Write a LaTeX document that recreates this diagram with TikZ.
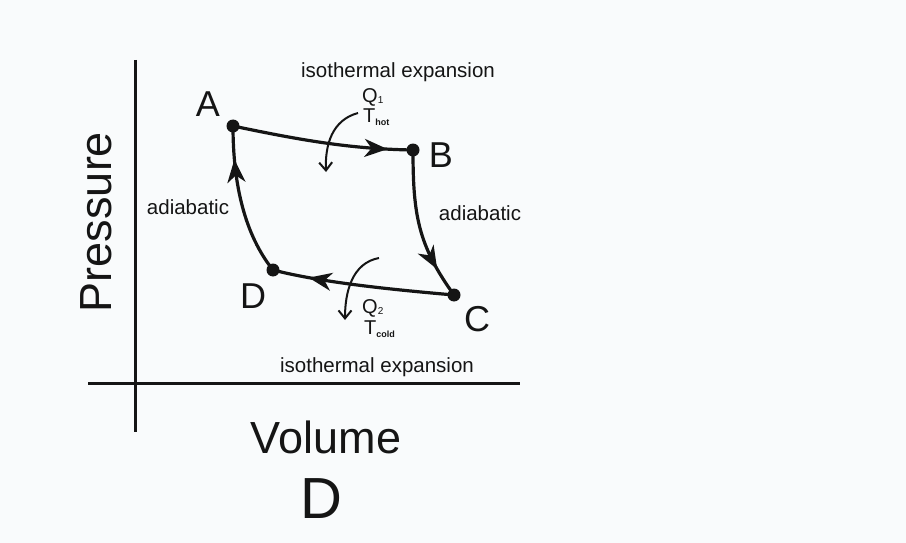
\documentclass[tikz,border=0pt]{standalone}
\usepackage{fontspec}
\setmainfont{Liberation Sans}
\usetikzlibrary{arrows.meta,decorations.markings}
\definecolor{bgc}{HTML}{F9FBFC}
\definecolor{ink}{HTML}{151515}
\tikzset{
  path/.style={line width=3.2pt, draw=ink},
  midarrow/.style={postaction={decorate},decoration={markings,
     mark=at position #1 with {\arrow{Stealth[length=23pt,width=18pt,inset=7pt]}}}},
  pt/.style={circle, fill=ink, inner sep=0pt, minimum size=13pt},
  small/.style={font=\fontsize{20.5}{22}\selectfont, text=ink, inner sep=0pt},
  qt/.style={font=\fontsize{20}{22}\selectfont, text=ink, inner sep=0pt},
  corner/.style={font=\fontsize{36}{38}\selectfont, text=ink, inner sep=0pt},
  big/.style={font=\fontsize{45}{47}\selectfont, text=ink, inner sep=0pt},
  heat/.style={line width=2pt, draw=ink, -{Straight Barb[length=8pt,width=13pt]}},
  axis/.style={line width=3pt, draw=ink},
}
\begin{document}
\begin{tikzpicture}[x=1pt,y=-1pt]
\fill[bgc] (0,0) rectangle (906,543);
\useasboundingbox (0,0) rectangle (906,543);
% axes
\coordinate (ytop) at (135,60);
\coordinate (ybot) at (135,432);
\coordinate (xl) at (88,383);
\coordinate (xr) at (520,383);
\draw[axis] (ytop) -- (ybot);
\draw[axis] (xl) -- (xr);
% points
\node[pt] (A) at (233,126) {};
\node[pt] (B) at (413,150) {};
\node[pt] (C) at (454,295) {};
\node[pt] (D) at (273,270) {};
% cycle
\draw[path, midarrow=0.86] (A.center) .. controls (300,140) and (350,149) .. (B.center);
\draw[path, midarrow=0.8] (B.center) .. controls (413,215) and (418,245) .. (C.center);
\draw[path, midarrow=0.8] (C.center) .. controls (385,289) and (320,282) .. (D.center);
\draw[path, midarrow=0.78] (D.center) .. controls (245,235) and (233,185) .. (A.center);
% heat arrows
\coordinate (h1s) at (358,113);
\coordinate (h1e) at (326,172);
\draw[heat] (h1s) .. controls (332,120) and (325,145) .. (h1e);
\coordinate (h2s) at (379,258);
\coordinate (h2e) at (345,320);
\draw[heat] (h2s) .. controls (352,263) and (345,292) .. (h2e);
% labels
\node[corner] (lA) at (208,104) {A};
\node[corner] (lB) at (441,155) {B};
\node[corner] (lC) at (477,319) {C};
\node[corner] (lD) at (253,296) {D};
\node[small] (iso1) at (398,72) {isothermal expansion};
\node[small] (iso2) at (377,367) {isothermal expansion};
\node[small] (ad1) at (188,207) {adiabatic};
\node[small] (ad2) at (480,213) {adiabatic};
\node[qt, anchor=west] (q1) at (362,97) {Q\raisebox{-1pt}{\fontsize{10}{10}\selectfont 1}};
\node[qt, anchor=west] (t1) at (363,117) {T\raisebox{-3pt}{\fontsize{9}{9}\selectfont\bfseries hot}};
\node[qt, anchor=west] (q2) at (362,308) {Q\raisebox{-1pt}{\fontsize{10}{10}\selectfont 2}};
\node[qt, anchor=west] (t2) at (364,329) {T\raisebox{-3pt}{\fontsize{9}{9}\selectfont\bfseries cold}};
\node[big, rotate=90] (pr) at (96,222) {Pressure};
\node[big] (vol) at (326,437) {Volume};
\node[font=\fontsize{58}{60}\selectfont, text=ink, inner sep=0pt] (bigD) at (321,499) {D};
\end{tikzpicture}
\end{document}
